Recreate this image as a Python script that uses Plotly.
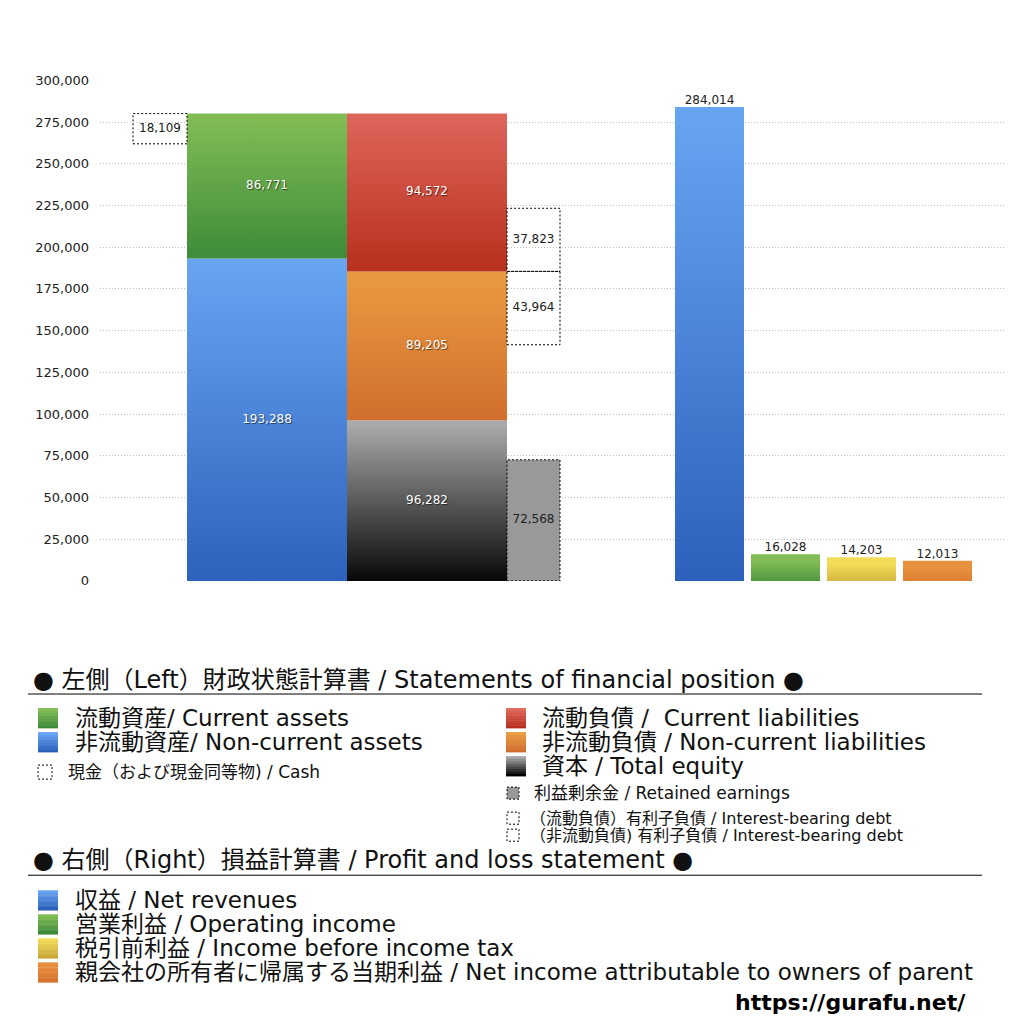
import plotly.graph_objects as go

# %% data
asset_names = ['流動資産', '非流動資産']
asset_values = [86771, 193288]          # current, non-current
cash_value = 18109

liab_names = ['流動負債', '非流動負債', '資本']
liab_values = [94572, 89205, 96282]     # current liab, non-current liab, equity
retained_earnings = 72568
debt_values = [37823, 43964]            # current / non-current interest-bearing debt

pl_names = ['収益', '営業利益', '税引前利益', '親会社の所有者に帰属する当期利益']
pl_names_en = ['Net revenues', 'Operating income', 'Income before income tax',
               'Net income attributable to owners of parent']
pl_values = [284014, 16028, 14203, 12013]

y_ticks = list(range(0, 300001, 25000))

# %% layout helpers
# the page puts the figure at (8, ~16) and the shot is squeezed a bit vertically,
# so screen positions are mapped back with these
LEFT, TOP, SY = 8, 16, 0.984
W = H = 1008
FONT = 'DejaVu Sans, Noto Sans CJK JP'

# x slots on a pixel-like axis (0..905)
slot_cash = (33, 87)
slot_assets = (87, 247)
slot_liab = (247, 407)
slot_debt = (407, 460)
slot_pl = [(575, 644), (651, 720), (727, 796), (803, 872)]

# gradients (top, bottom)
c_green = ('#82be55', '#3d8a39')
c_blue = ('#67a5f2', '#2c60bb')
c_red = ('#de665b', '#b72e1c')
c_orange = ('#e99a40', '#d06d2d')
c_black = ('#a8a8a8', '#000000')
c_yellow = ('#f3dc57', '#c9a73a')
pl_colors = [c_blue, c_green, c_yellow, ('#e8913d', '#d7742f')]


def grad_box(slot, y0, y1, colors):
    x0, x1 = slot
    return go.Scatter(
        x=[x0, x1, x1, x0, x0], y=[y0, y0, y1, y1, y0],
        mode='none', fill='toself', hoverinfo='skip', showlegend=False,
        fillgradient=dict(type='vertical', start=y0, stop=y1,
                          colorscale=[[0, colors[1]], [1, colors[0]]]),
    )


def dot_box(slot, y0, y1, fillcolor=None):
    x0, x1 = slot
    return go.Scatter(
        x=[x0, x1, x1, x0, x0], y=[y0, y0, y1, y1, y0],
        mode='lines', line=dict(color='black', width=1, dash='2px,2px'),
        fill='toself' if fillcolor else 'none',
        fillcolor=fillcolor or 'rgba(0,0,0,0)',
        hoverinfo='skip', showlegend=False,
    )


def label(slot, y, value, color='white', pos='middle center', size=12):
    x0, x1 = slot
    shadow = '1px 1px 1px rgba(0,0,0,0.55)' if color == 'white' else 'none'
    return go.Scatter(
        x=[(x0 + x1) / 2], y=[y], mode='text', text=[f'{value:,}'],
        textposition=pos, hoverinfo='skip', showlegend=False,
        textfont=dict(family=FONT, size=size, color=color, shadow=shadow),
    )


traces = []

# left column: assets
non_cur, cur = asset_values[1], asset_values[0]
total_assets = non_cur + cur
traces.append(grad_box(slot_assets, 0, non_cur, c_blue))
traces.append(grad_box(slot_assets, non_cur, total_assets, c_green))
traces.append(dot_box(slot_cash, total_assets - cash_value, total_assets))

# second column: liabilities + equity
eq, ncl, cl = liab_values[2], liab_values[1], liab_values[0]
traces.append(grad_box(slot_liab, 0, eq, c_black))
traces.append(grad_box(slot_liab, eq, eq + ncl, c_orange))
traces.append(grad_box(slot_liab, eq + ncl, eq + ncl + cl, c_red))
traces.append(dot_box(slot_debt, 0, retained_earnings, fillcolor='#999999'))
traces.append(dot_box(slot_debt, eq + ncl, eq + ncl + debt_values[0]))
traces.append(dot_box(slot_debt, eq + ncl - debt_values[1], eq + ncl))

# right: P/L
for s, v, c in zip(slot_pl, pl_values, pl_colors):
    traces.append(grad_box(s, 0, v, c))

# value labels
traces.append(label(slot_assets, non_cur / 2, non_cur))
traces.append(label(slot_assets, non_cur + cur / 2, cur))
traces.append(label(slot_cash, total_assets - cash_value / 2, cash_value, color='#222'))
traces.append(label(slot_liab, eq / 2, eq))
traces.append(label(slot_liab, eq + ncl / 2, ncl))
traces.append(label(slot_liab, eq + ncl + cl / 2, cl))
traces.append(label(slot_debt, retained_earnings / 2, retained_earnings, color='#222'))
traces.append(label(slot_debt, eq + ncl + debt_values[0] / 2, debt_values[0], color='#222'))
traces.append(label(slot_debt, eq + ncl - debt_values[1] / 2, debt_values[1], color='#222'))
for s, v in zip(slot_pl, pl_values):
    traces.append(label(s, v, v, color='#222', pos='top center'))

fig = go.Figure(data=traces)


# %% legend drawn as annotations/shapes, positioned in screen pixels
def X(px):
    return (px - LEFT) / W


def Y(py):
    return 1 - (py / SY - TOP) / H


annotations = []
shapes = []


def text(x, y, s, size, bold=False, color='#111'):
    annotations.append(dict(
        x=X(x), y=Y(y), xref='paper', yref='paper', text=f'<b>{s}</b>' if bold else s,
        showarrow=False, xanchor='left', yanchor='middle',
        font=dict(family=FONT, size=size, color=color),
    ))


def swatch(x, y, size, colors, dotted=False):
    x0, y0, x1, y1 = x, y - size / 2, x + size, y + size / 2
    if dotted:
        shapes.append(dict(type='rect', xref='paper', yref='paper',
                           x0=X(x0), x1=X(x1), y0=Y(y0), y1=Y(y1),
                           fillcolor=colors or 'rgba(0,0,0,0)',
                           line=dict(color='black', width=1, dash='2px,2px')))
        return
    n = 8
    top, bot = colors
    t = [int(top[i:i + 2], 16) for i in (1, 3, 5)]
    b = [int(bot[i:i + 2], 16) for i in (1, 3, 5)]
    for k in range(n):
        f = k / (n - 1)
        c = 'rgb({},{},{})'.format(*[round(t[j] + (b[j] - t[j]) * f) for j in range(3)])
        ya = y0 + (y1 - y0) * k / n
        yb = y0 + (y1 - y0) * (k + 1) / n
        shapes.append(dict(type='rect', xref='paper', yref='paper',
                           x0=X(x0), x1=X(x1), y0=Y(ya), y1=Y(yb + 0.3),
                           fillcolor=c, line=dict(width=0)))


HEAD = 24
BIG = 23
SMALL = 17

text(31, 680, '● 左側（Left）財政状態計算書 / Statements of financial position ●', HEAD)
shapes.append(dict(type='line', xref='paper', yref='paper', x0=X(28), x1=X(982),
                   y0=Y(694), y1=Y(694), line=dict(color='black', width=1)))

swatch(38, 718, 20, c_green)
text(73, 718, '流動資産/ Current assets', BIG)
swatch(38, 742, 20, c_blue)
text(73, 742, '非流動資産/ Non-current assets', BIG)
swatch(38, 772, 14, None, dotted=True)
text(66, 772, '現金（および現金同等物) / Cash', SMALL)

swatch(506, 718, 20, c_red)
text(540, 718, '流動負債 /  Current liabilities', BIG)
swatch(506, 742, 20, c_orange)
text(540, 742, '非流動負債 / Non-current liabilities', BIG)
swatch(506, 766, 20, c_black)
text(540, 766, '資本 / Total equity', BIG)
swatch(507, 793, 12, '#999999', dotted=True)
text(532, 793, '利益剰余金 / Retained earnings', SMALL)
swatch(507, 818, 12, None, dotted=True)
text(528, 818, '（流動負債）有利子負債 / Interest-bearing debt', 16)
swatch(507, 835, 12, None, dotted=True)
text(528, 835, '（非流動負債) 有利子負債 / Interest-bearing debt', 16)

text(31, 860, '● 右側（Right）損益計算書 / Profit and loss statement ●', HEAD)
shapes.append(dict(type='line', xref='paper', yref='paper', x0=X(28), x1=X(982),
                   y0=Y(875), y1=Y(875), line=dict(color='black', width=1)))

for i, (name, en) in enumerate(zip(pl_names, pl_names_en)):
    yy = 900 + 24 * i
    swatch(38, yy, 20, pl_colors[i])
    text(73, yy, f'{name} / {en}', BIG)

text(733, 1002, 'https://gurafu.net/', 22, bold=True, color='#000')

fig.update_layout(
    width=W, height=H,
    margin=dict(l=0, r=0, t=0, b=0),
    paper_bgcolor='white', plot_bgcolor='white',
    showlegend=False,
    xaxis=dict(domain=[X(100), X(1005)], range=[0, 905], visible=False, fixedrange=True),
    yaxis=dict(domain=[Y(581), Y(81)], range=[0, 300000],
               tickvals=y_ticks, tickformat=',d',
               showgrid=True, gridcolor='#bdbdbd', griddash='1px,2px', gridwidth=1,
               zeroline=False, showline=False, ticks='', ticklabelstandoff=10,
               tickfont=dict(family=FONT, size=13, color='#222')),
    annotations=annotations,
    shapes=shapes,
)

fig.write_html('out.html')
